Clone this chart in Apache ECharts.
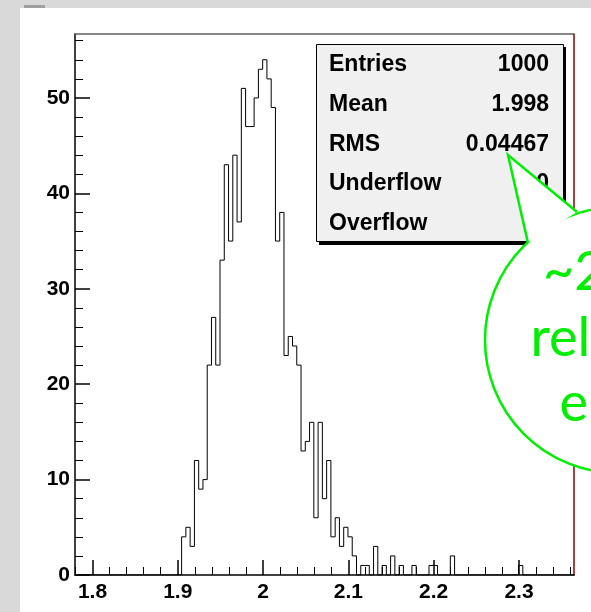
<!DOCTYPE html>
<html>
<head>
<meta charset="utf-8">
<script src="https://cdn.jsdelivr.net/npm/echarts@6/dist/echarts.min.js"></script>
<style>
  html, body { margin: 0; padding: 0; background: #d9d9d9; }
  #main { width: 591px; height: 612px; }
</style>
</head>
<body>
<div id="main"></div>
<script>
// histogram binning (117 bins of 0.005)
var xMin = 1.7795;
var binWidth = 0.005;
var nBins = 117;
var firstBin = 25;
// bin contents starting at firstBin
var counts = [4, 5, 3, 12, 9, 10, 22, 27, 22, 33,
  43, 35, 44, 37, 51, 47, 47, 50, 53, 54,
  52, 49, 35, 38, 23, 25, 24, 22, 13, 14,
  16, 6, 16, 8, 12, 4, 6, 3, 5, 4,
  2, 0, 1, 1, 0, 3, 0, 1, 0, 2,
  0, 1, 0, 0, 1, 0, 0, 0, 1, 1,
  0, 0, 0, 2, 0, 0, 0, 0, 0, 0,
  0, 0, 0, 0, 0, 0, 0, 0, 0, 1];
var yMax = 56.7;

var xMajor = [1.8, 1.9, 2, 2.1, 2.2, 2.3];
var yMajor = [0, 10, 20, 30, 40, 50];

var statLabels = ['Entries', 'Mean', 'RMS', 'Underflow', 'Overflow'];
var statValues = ['1000', '1.998', '0.04467', '0', '0'];
var bubbleLines = ['~2.2%', 'relative', 'error'];

var xMax = xMin + nBins * binWidth;

// minor ticks: every 0.02 on x, every 2 on y
var xMinor = [];
for (var i = 89; i <= 118; i++) {
  var v = Math.round(i * 2) / 100;
  if (i % 5 !== 0 && v >= xMin && v <= xMax) xMinor.push(v);
}
var yMinor = [];
for (var j = 2; j <= yMax; j += 2) {
  if (j % 10 !== 0) yMinor.push(j);
}

// outline points (step)
var pts = [[xMin, 0]];
for (var k = 0; k < nBins; k++) {
  var c = (k >= firstBin && k < firstBin + counts.length) ? counts[k - firstBin] : 0;
  pts.push([xMin + k * binWidth, c]);
}
pts.push([xMax, 0]);

var font = 'Liberation Sans, Arial, Helvetica, sans-serif';
var green = '#00ee00';

var statText = [];
statLabels.forEach(function (lab, n) {
  var y = 65 + n * 39.6;
  statText.push({ type: 'text', z: 50, style: { x: 329, y: y, text: lab, fill: '#000',
    font: 'bold 23px ' + font, textAlign: 'left', textVerticalAlign: 'middle' } });
  statText.push({ type: 'text', z: 50, style: { x: 549, y: y, text: statValues[n], fill: '#000',
    font: 'bold 23px ' + font, textAlign: 'right', textVerticalAlign: 'middle' } });
});

var bubble = [
  { type: 'circle', z: 60, shape: { cx: 618, cy: 340, r: 133 },
    style: { fill: '#fff', stroke: green, lineWidth: 2.5 } },
  { type: 'polygon', z: 61, shape: { points: [[508, 155], [528, 243], [577, 212]] },
    style: { fill: '#fff', stroke: null } },
  { type: 'polyline', z: 62, shape: { points: [[528, 243], [508, 155], [577, 212]] },
    style: { stroke: green, lineWidth: 2.5, fill: null } }
];
bubbleLines.forEach(function (t, n) {
  bubble.push({ type: 'text', z: 63, style: { x: 618, y: 273 + n * 65.5, text: t, fill: green,
    font: '54px Lato, "Open Sans", sans-serif', textAlign: 'center', textVerticalAlign: 'middle' } });
});

var chart = echarts.init(document.getElementById('main'), null, { width: 591, height: 612 });

var option = {
  animation: false,
  backgroundColor: '#d9d9d9',
  grid: [
    { left: 75, right: 17, top: 34, bottom: 37, show: false },
    { left: 75, right: 17, top: 34, bottom: 37, show: false }
  ],
  xAxis: [
    {
      gridIndex: 0, type: 'value', min: xMin, max: xMax, position: 'bottom',
      axisLine: { show: true, lineStyle: { color: '#000', width: 1.5 } },
      axisTick: { inside: true, length: 15, customValues: xMajor, lineStyle: { color: '#000', width: 1.5 } },
      axisLabel: { customValues: xMajor, margin: 7, color: '#000', fontWeight: 'bold', fontSize: 21, fontFamily: font },
      splitLine: { show: false }
    },
    {
      gridIndex: 0, type: 'value', min: xMin, max: xMax, position: 'top',
      axisLine: { show: true, onZero: false, lineStyle: { color: '#606060', width: 1.5 } },
      axisTick: { show: false }, axisLabel: { show: false }, splitLine: { show: false }
    },
    {
      gridIndex: 1, type: 'value', min: xMin, max: xMax, position: 'bottom',
      axisLine: { show: false },
      axisTick: { inside: true, length: 8, customValues: xMinor, lineStyle: { color: '#000', width: 1 } },
      axisLabel: { show: false }, splitLine: { show: false }
    }
  ],
  yAxis: [
    {
      gridIndex: 0, type: 'value', min: 0, max: yMax, position: 'left',
      axisLine: { show: true, onZero: false, lineStyle: { color: '#000', width: 1.5 } },
      axisTick: { show: true, inside: true, length: 15, customValues: yMajor, lineStyle: { color: '#000', width: 1.5 } },
      axisLabel: { customValues: yMajor, margin: 5, color: '#000', fontWeight: 'bold', fontSize: 21, fontFamily: font },
      splitLine: { show: false }
    },
    {
      gridIndex: 0, type: 'value', min: 0, max: yMax, position: 'right',
      axisLine: { show: true, onZero: false, lineStyle: { color: '#8b0000', width: 1.5 } },
      axisTick: { show: false }, axisLabel: { show: false }, splitLine: { show: false }
    },
    {
      gridIndex: 1, type: 'value', min: 0, max: yMax, position: 'left',
      axisLine: { show: false },
      axisTick: { show: true, inside: true, length: 8, customValues: yMinor, lineStyle: { color: '#000', width: 1 } },
      axisLabel: { show: false }, splitLine: { show: false }
    }
  ],
  graphic: [
    { type: 'rect', z: -10, shape: { x: 20, y: 8, width: 571, height: 604 }, style: { fill: '#fff' } },
    { type: 'rect', z: -9, shape: { x: 24, y: 5, width: 21, height: 3 }, style: { fill: '#a0a0a0' } },
    { type: 'rect', z: 40, shape: { x: 319, y: 47, width: 247, height: 198 }, style: { fill: '#000' } },
    { type: 'rect', z: 41, shape: { x: 316.5, y: 44.5, width: 247, height: 197 },
      style: { fill: '#f0f0f0', stroke: '#000', lineWidth: 1 } }
  ].concat(statText).concat(bubble),
  series: [
    {
      type: 'line', xAxisIndex: 0, yAxisIndex: 0, step: 'end',
      showSymbol: false, symbol: 'none',
      lineStyle: { color: '#000', width: 1 },
      data: pts
    }
  ]
};
chart.setOption(option);
</script>
</body>
</html>
